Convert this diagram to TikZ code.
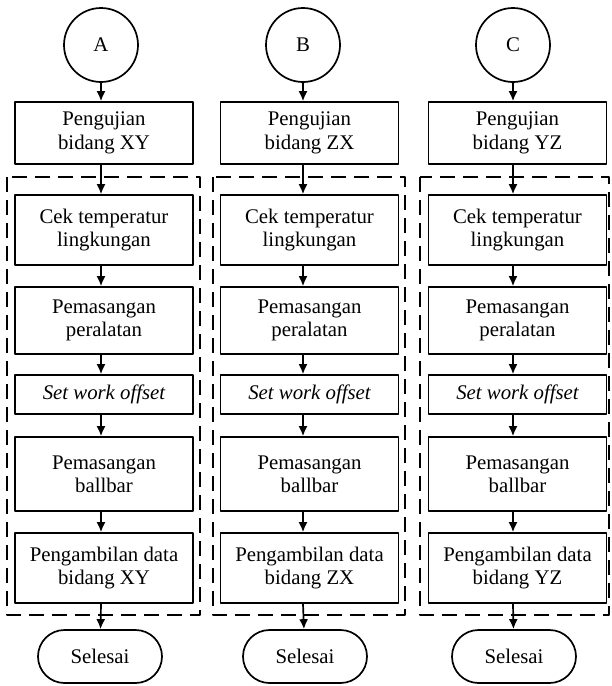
\documentclass[tikz,border=0pt]{standalone}
\usepackage{fontspec}
\setmainfont{Liberation Serif}
\usetikzlibrary{shapes.misc,arrows.meta}
\tikzset{
  start/.style={draw,circle,minimum size=37pt,inner sep=0pt},
  proc/.style={draw,rectangle,minimum width=89pt,inner sep=1pt,align=center},
  stop/.style={draw,rounded rectangle,minimum width=64pt,minimum height=26.5pt,inner sep=1pt},
  group/.style={dash pattern=on 7.5pt off 4pt},
}
\begin{document}
\begin{tikzpicture}[>={Latex[length=5pt,width=4.5pt]},line join=bevel,x=0.5pt,y=-0.5pt,line width=0.85pt,
  font=\fontsize{10.4}{11.7}\selectfont]
\useasboundingbox (0,0) rectangle (611,686);
%%
  % Node: A
  \node[start] (A) at (101,45) {A};
  \node[proc,minimum height=31pt] (pujiA) at (104,133) {Pengujian\\bidang XY};
  \node[proc,minimum height=35pt] (cekA) at (104,230) {Cek temperatur\\lingkungan};
  \node[proc,minimum height=33.5pt] (alatA) at (104,320.5) {Pemasangan\\peralatan};
  \node[proc,minimum height=19.5pt] (setA) at (104,394.5) {\itshape Set work offset};
  \node[proc,minimum height=37pt] (ballA) at (104,474) {Pemasangan\\ballbar};
  \node[proc,minimum height=35pt] (ambilA) at (104,568) {Pengambilan data\\bidang XY};
  \node[stop] (endA) at (100,656.5) {Selesai};
  % Node: B
  \node[start] (B) at (303,45) {B};
  \node[proc,minimum height=31pt] (pujiB) at (309.5,133) {Pengujian\\bidang ZX};
  \node[proc,minimum height=35pt] (cekB) at (309.5,230) {Cek temperatur\\lingkungan};
  \node[proc,minimum height=33.5pt] (alatB) at (309.5,320.5) {Pemasangan\\peralatan};
  \node[proc,minimum height=19.5pt] (setB) at (309.5,394.5) {\itshape Set work offset};
  \node[proc,minimum height=37pt] (ballB) at (309.5,474) {Pemasangan\\ballbar};
  \node[proc,minimum height=35pt] (ambilB) at (309.5,568) {Pengambilan data\\bidang ZX};
  \node[stop] (endB) at (305,656.5) {Selesai};
  % Node: C
  \node[start] (C) at (513,45) {C};
  \node[proc,minimum height=31pt] (pujiC) at (517.5,133) {Pengujian\\bidang YZ};
  \node[proc,minimum height=35pt] (cekC) at (517.5,230) {Cek temperatur\\lingkungan};
  \node[proc,minimum height=33.5pt] (alatC) at (517.5,320.5) {Pemasangan\\peralatan};
  \node[proc,minimum height=19.5pt] (setC) at (517.5,394.5) {\itshape Set work offset};
  \node[proc,minimum height=37pt] (ballC) at (517.5,474) {Pemasangan\\ballbar};
  \node[proc,minimum height=35pt] (ambilC) at (517.5,568) {Pengambilan data\\bidang YZ};
  \node[stop] (endC) at (514,656.5) {Selesai};
  % Groups
  \draw[group] (7,177) rectangle (200,615);
  \draw[group] (213,177) rectangle (405,615);
  \draw[group] (420,177) rectangle (609,615);
  % Edge: A
  \draw[->] (A) -- (A |- pujiA.north);
  \draw[->] (pujiA.south -| A) -- (cekA.north -| A);
  \draw[->] (cekA.south -| A) -- (alatA.north -| A);
  \draw[->] (alatA.south -| A) -- (setA.north -| A);
  \draw[->] (setA.south -| A) -- (ballA.north -| A);
  \draw[->] (ballA.south -| A) -- (ambilA.north -| A);
  \draw[->] (ambilA.south -| A) -- (endA);
  % Edge: B
  \draw[->] (B) -- (B |- pujiB.north);
  \draw[->] (pujiB.south -| B) -- (cekB.north -| B);
  \draw[->] (cekB.south -| B) -- (alatB.north -| B);
  \draw[->] (alatB.south -| B) -- (setB.north -| B);
  \draw[->] (setB.south -| B) -- (ballB.north -| B);
  \draw[->] (ballB.south -| B) -- (ambilB.north -| B);
  \draw[->] (ambilB.south -| B) -- (endB);
  % Edge: C
  \draw[->] (C) -- (C |- pujiC.north);
  \draw[->] (pujiC.south -| C) -- (cekC.north -| C);
  \draw[->] (cekC.south -| C) -- (alatC.north -| C);
  \draw[->] (alatC.south -| C) -- (setC.north -| C);
  \draw[->] (setC.south -| C) -- (ballC.north -| C);
  \draw[->] (ballC.south -| C) -- (ambilC.north -| C);
  \draw[->] (ambilC.south -| C) -- (endC);
%
\end{tikzpicture}
\end{document}
